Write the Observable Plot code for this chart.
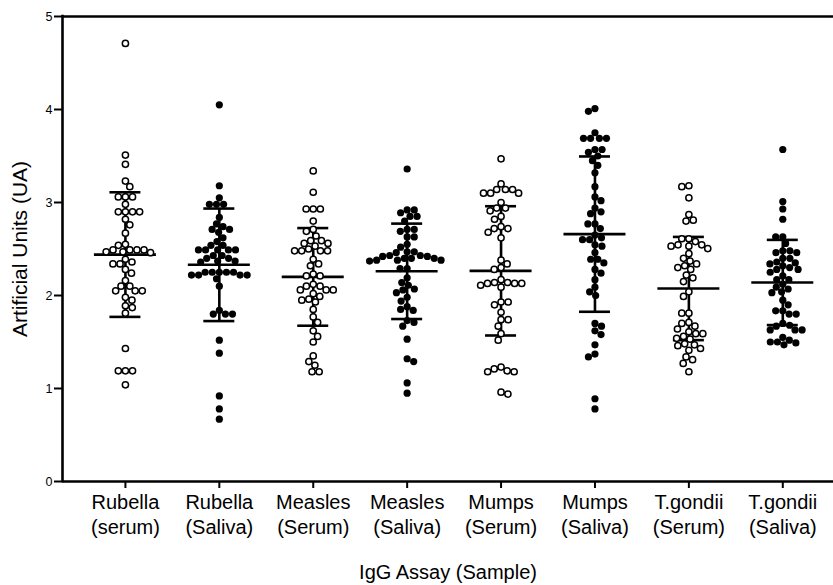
<!DOCTYPE html>
<html>
<head>
<meta charset="utf-8">
<script src="https://cdn.jsdelivr.net/npm/d3@7"></script>
<script src="https://cdn.jsdelivr.net/npm/@observablehq/plot@0.6"></script>
<style>
  html, body { margin: 0; padding: 0; background: #fff; }
</style>
</head>
<body>
<div id="chart"></div>
<script>
// ---- Data ----
const categories = ["Rubella\n(serum)", "Rubella\n(Saliva)", "Measles\n(Serum)", "Measles\n(Saliva)",
                    "Mumps\n(Serum)", "Mumps\n(Saliva)", "T.gondii\n(Serum)", "T.gondii\n(Saliva)"];
const sampleType = ["serum", "saliva", "serum", "saliva", "serum", "saliva", "serum", "saliva"];

const rubellaSerum = [4.71,3.51,3.41,3.23,3.17,3.06,3.06,3.06,2.98,2.90,2.90,2.90,2.90,2.82,2.76,2.67,2.55,2.54,
  2.49,2.49,2.49,2.49,2.47,2.47,2.46,2.39,2.36,2.34,2.34,2.28,2.24,2.16,2.10,2.10,2.05,2.05,2.05,1.98,1.95,1.89,
  1.87,1.81,1.43,1.19,1.19,1.19,1.04];
const rubellaSaliva = [4.05,3.18,3.05,2.98,2.98,2.98,2.84,2.77,2.74,2.71,2.71,2.68,2.62,2.58,2.54,2.54,2.49,2.49,
  2.49,2.49,2.49,2.43,2.43,2.40,2.40,2.37,2.37,2.36,2.25,2.25,2.25,2.25,2.25,2.22,2.22,2.22,2.22,2.18,2.10,1.84,
  1.80,1.80,1.80,1.52,1.38,0.92,0.78,0.67];
const measlesSerum = [3.34,3.11,2.93,2.93,2.93,2.80,2.71,2.69,2.64,2.59,2.59,2.56,2.56,2.53,2.50,2.48,2.48,2.48,
  2.48,2.39,2.34,2.32,2.23,2.21,2.21,2.12,2.10,2.10,2.06,2.06,2.06,2.02,1.99,1.96,1.95,1.93,1.85,1.77,1.71,1.62,
  1.56,1.50,1.35,1.29,1.25,1.18,1.18];
const measlesSaliva = [3.36,2.92,2.92,2.89,2.85,2.85,2.80,2.71,2.71,2.69,2.63,2.63,2.55,2.52,2.47,2.47,2.46,2.43,
  2.43,2.42,2.42,2.40,2.40,2.40,2.38,2.38,2.38,2.37,2.29,2.29,2.19,2.14,2.11,2.07,2.06,2.03,1.98,1.94,1.88,1.85,
  1.84,1.73,1.71,1.67,1.53,1.32,1.29,1.06,0.95];
const mumpsSerum = [3.47,3.20,3.14,3.14,3.14,3.10,3.10,3.10,3.00,2.94,2.94,2.91,2.85,2.82,2.74,2.72,2.72,2.68,
  2.62,2.38,2.34,2.30,2.28,2.17,2.14,2.14,2.13,2.13,2.13,2.11,2.09,1.93,1.93,1.90,1.82,1.74,1.74,1.67,1.59,1.52,
  1.23,1.21,1.19,1.18,1.18,0.96,0.94];
const mumpsSaliva = [4.01,3.98,3.75,3.69,3.69,3.69,3.69,3.57,3.57,3.54,3.50,3.45,3.40,3.32,3.17,3.06,3.02,2.94,
  2.90,2.88,2.77,2.77,2.72,2.65,2.62,2.60,2.60,2.545,2.53,2.46,2.39,2.39,2.35,2.28,2.24,2.17,2.09,2.04,2.00,1.70,
  1.67,1.62,1.58,1.47,1.37,1.34,0.89,0.78];
const tgondiiSerum = [3.18,3.17,3.05,2.87,2.81,2.80,2.61,2.61,2.58,2.545,2.545,2.53,2.53,2.505,2.45,2.40,2.37,2.34,
  2.32,2.30,2.28,2.22,2.19,2.15,2.04,1.99,1.81,1.81,1.71,1.70,1.67,1.64,1.61,1.59,1.59,1.56,1.54,1.53,1.48,1.47,
  1.46,1.43,1.41,1.34,1.31,1.27,1.18];
const tgondiiSaliva = [3.57,3.01,2.93,2.82,2.63,2.63,2.56,2.48,2.48,2.46,2.46,2.40,2.40,2.36,2.35,2.34,2.32,2.30,
  2.28,2.28,2.25,2.21,2.17,2.17,2.12,2.09,2.07,2.04,2.03,1.95,1.90,1.835,1.835,1.80,1.80,1.70,1.68,1.67,1.63,1.63,
  1.63,1.55,1.52,1.50,1.50,1.49,1.47];

const groups = [rubellaSerum, rubellaSaliva, measlesSerum, measlesSaliva, mumpsSerum, mumpsSaliva, tgondiiSerum, tgondiiSaliva];
const means = [2.44, 2.33, 2.20, 2.26, 2.265, 2.66, 2.075, 2.14];
const sds   = [0.67, 0.605, 0.525, 0.513, 0.695, 0.835, 0.555, 0.458];
const yTicks = [0, 1, 2, 3, 4, 5];

// ---- Layout ----
const W = 833, H = 585;
const mTop = 16, mBottom = 104, mLeft = 62, mRight = 0;
const xDomain = [-0.67, 7.54];
const yDomain = [0, 5];
const pxPerY = (H - mTop - mBottom) / (yDomain[1] - yDomain[0]);
const pxPerX = (W - mLeft - mRight) / (xDomain[1] - xDomain[0]);
const spacing = 7.1; // minimum centre-to-centre distance between dots, px

// Scatter (beeswarm-like) offsets computed from the values, in pixels
function swarm(values) {
  const placed = [];
  let side = 1;
  return values.map(v => {
    const y = v * pxPerY;
    const cands = [0];
    for (const p of placed) {
      const dy = Math.abs(p.y - y);
      if (dy < spacing) {
        const dx = Math.sqrt(spacing * spacing - dy * dy);
        cands.push(p.x + dx, p.x - dx);
      }
    }
    side = -side;
    cands.sort((a, b) => Math.abs(a) - Math.abs(b) || side * (a - b));
    for (const c of cands) {
      if (placed.every(p => (p.x - c) ** 2 + (p.y - y) ** 2 >= spacing * spacing - 1e-6)) {
        placed.push({x: c, y});
        return c;
      }
    }
    return 0;
  });
}

const points = [];
groups.forEach((vals, i) => {
  const offs = swarm(vals);
  vals.forEach((v, j) => points.push({i, value: v, x: i + offs[j] / pxPerX, type: sampleType[i]}));
});
const stats = means.map((m, i) => ({i, mean: m, lo: m - sds[i], hi: m + sds[i]}));

const meanHalf = 31 / pxPerX;
const capHalf = 15.5 / pxPerX;
const font = "'Liberation Sans', Arial, Helvetica, sans-serif";

const chart = Plot.plot({
  width: W, height: H,
  marginTop: mTop, marginBottom: mBottom, marginLeft: mLeft, marginRight: mRight,
  style: {fontFamily: font, background: "#fff", color: "#000"},
  x: {type: "linear", domain: xDomain},
  y: {domain: yDomain},
  marks: [
    // axes frame
    Plot.ruleY([yDomain[0]], {stroke: "#000", strokeWidth: 2.6}),
    Plot.ruleY([yDomain[1]], {stroke: "#000", strokeWidth: 2.6}),
    Plot.ruleX([xDomain[0]], {y1: yDomain[0], y2: yDomain[1], stroke: "#000", strokeWidth: 2.6, strokeLinecap: "square"}),
    Plot.axisY({ticks: yTicks, tickSize: 8, tickPadding: 2, fontSize: 12.5, strokeWidth: 2, label: null, tickFormat: d3.format("d")}),
    Plot.axisX({ticks: d3.range(categories.length), tickFormat: i => categories[i], tickSize: 7, tickPadding: 3,
                fontSize: 20, lineHeight: 1.25, strokeWidth: 2, label: null}),
    // mean and SD bars
    Plot.ruleY(stats, {y: "mean", x1: d => d.i - meanHalf, x2: d => d.i + meanHalf, stroke: "#000", strokeWidth: 2.6}),
    Plot.ruleX(stats, {x: "i", y1: "lo", y2: "hi", stroke: "#000", strokeWidth: 2.6}),
    Plot.ruleY(stats, {y: "hi", x1: d => d.i - capHalf, x2: d => d.i + capHalf, stroke: "#000", strokeWidth: 2.6}),
    Plot.ruleY(stats, {y: "lo", x1: d => d.i - capHalf, x2: d => d.i + capHalf, stroke: "#000", strokeWidth: 2.6}),
    // dots
    Plot.dot(points.filter(d => d.type === "serum"), {x: "x", y: "value", r: 3.1, fill: "#fff", stroke: "#000", strokeWidth: 1.5}),
    Plot.dot(points.filter(d => d.type === "saliva"), {x: "x", y: "value", r: 3.6, fill: "#000", stroke: "none"}),
    // axis titles
    Plot.text(["IgG Assay (Sample)"], {frameAnchor: "bottom", dy: 97, fontSize: 20, fill: "#000", textAnchor: "middle"}),
    Plot.text(["Artificial Units (UA)"], {frameAnchor: "left", rotate: -90, dx: -42, fontSize: 21, fill: "#000", textAnchor: "middle"})
  ]
});
document.getElementById("chart").appendChild(chart);
</script>
</body>
</html>
